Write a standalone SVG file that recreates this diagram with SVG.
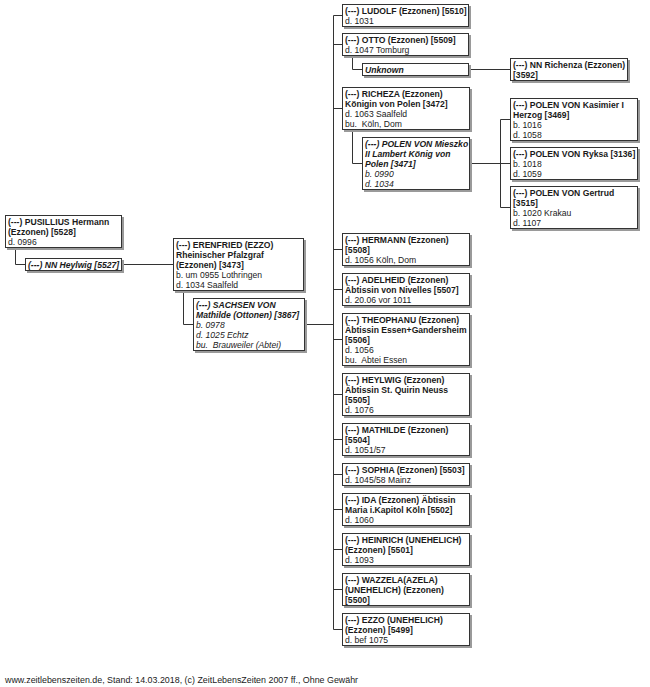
<svg xmlns="http://www.w3.org/2000/svg" width="650" height="687" viewBox="0 0 650 687">
<style>
.bg{fill:#fff}
.sh{fill:#9a9a9a}
.bx{fill:#fff;stroke:#333;stroke-width:1}
text{font-family:"Liberation Sans",Arial,sans-serif;font-size:8.6px;fill:#1a1a1a}
.b{font-weight:bold}
.i{font-style:italic}
.bi{font-weight:bold;font-style:italic}
#footer{font-size:8.9px}
#connectors path{fill:none;stroke:#333;stroke-width:1}
</style>
<rect class="bg" x="0" y="0" width="650" height="687"/>
<g id="connectors">
<path d="M15.5,247 V264.5 H25"/>
<path d="M121,264.5 H173"/>
<path d="M183.5,290 V324.5 H193"/>
<path d="M304,324.5 H333.5"/>
<path d="M333.5,15.5 V629.5"/>
<path d="M333.5,15.5 H342 M333.5,44.5 H342 M333.5,108.5 H342 M333.5,249.5 H342 M333.5,289.5 H342 M333.5,339.5 H342 M333.5,394.5 H342 M333.5,439.5 H342 M333.5,474.5 H342 M333.5,509.5 H342 M333.5,549.5 H342 M333.5,589.5 H342 M333.5,629.5 H342"/>
<path d="M352.5,55 V69.5 H362"/>
<path d="M468,69.5 H510"/>
<path d="M352.5,129 V163.5 H362"/>
<path d="M469,163.5 H500.5"/>
<path d="M500.5,119.5 V207.5 M500.5,119.5 H510 M500.5,163.5 H510 M500.5,207.5 H510"/>
</g>

<g id="n5528">
<rect class="sh" x="7" y="217" width="117" height="33"/>
<rect class="bx" x="5.5" y="215.5" width="116" height="32"/>
<text x="8" y="225" class="b">(---) PUSILLIUS Hermann</text>
<text x="8" y="235" class="b">(Ezzonen) [5528]</text>
<text x="8" y="245">d. 0996</text>
</g>
<g id="n5527">
<rect class="sh" x="27" y="260" width="97" height="13"/>
<rect class="bx" x="25.5" y="258.5" width="96" height="12"/>
<text x="28" y="268" class="bi">(---) NN Heylwig [5527]</text>
</g>
<g id="n3473">
<rect class="sh" x="175" y="240" width="131" height="53"/>
<rect class="bx" x="173.5" y="238.5" width="130" height="52"/>
<text x="176" y="248" class="b">(---) ERENFRIED (EZZO)</text>
<text x="176" y="258" class="b">Rheinischer Pfalzgraf</text>
<text x="176" y="268" class="b">(Ezzonen) [3473]</text>
<text x="176" y="278">b. um 0955 Lothringen</text>
<text x="176" y="288">d. 1034 Saalfeld</text>
</g>
<g id="n3867">
<rect class="sh" x="195" y="300" width="112" height="53"/>
<rect class="bx" x="193.5" y="298.5" width="111" height="52"/>
<text x="196" y="308" class="bi">(---) SACHSEN VON</text>
<text x="196" y="318" class="bi">Mathilde (Ottonen) [3867]</text>
<text x="196" y="328" class="i">b. 0978</text>
<text x="196" y="338" class="i">d. 1025 Echtz</text>
<text x="196" y="348" class="i" xml:space="preserve">bu.  Brauweiler (Abtei)</text>
</g>

<g id="n5510">
<rect class="sh" x="344" y="6" width="127" height="23"/>
<rect class="bx" x="342.5" y="4.5" width="126" height="22"/>
<text x="345" y="14" class="b">(---) LUDOLF (Ezzonen) [5510]</text>
<text x="345" y="24">d. 1031</text>
</g>
<g id="n5509">
<rect class="sh" x="344" y="35" width="127" height="23"/>
<rect class="bx" x="342.5" y="33.5" width="126" height="22"/>
<text x="345" y="43" class="b">(---) OTTO (Ezzonen) [5509]</text>
<text x="345" y="53">d. 1047 Tomburg</text>
</g>
<g id="unknown">
<rect class="sh" x="364" y="65" width="107" height="13"/>
<rect class="bx" x="362.5" y="63.5" width="106" height="12"/>
<text x="365" y="73" class="bi">Unknown</text>
</g>
<g id="n3592">
<rect class="sh" x="512" y="60" width="118" height="23"/>
<rect class="bx" x="510.5" y="58.5" width="117" height="22"/>
<text x="513" y="68" class="b">(---) NN Richenza (Ezzonen)</text>
<text x="513" y="78" class="b">[3592]</text>
</g>
<g id="n3472">
<rect class="sh" x="344" y="89" width="128" height="43"/>
<rect class="bx" x="342.5" y="87.5" width="127" height="42"/>
<text x="345" y="97" class="b">(---) RICHEZA (Ezzonen)</text>
<text x="345" y="107" class="b">Königin von Polen [3472]</text>
<text x="345" y="117">d. 1063 Saalfeld</text>
<text x="345" y="127" xml:space="preserve">bu.  Köln, Dom</text>
</g>
<g id="n3471">
<rect class="sh" x="364" y="139" width="108" height="53"/>
<rect class="bx" x="362.5" y="137.5" width="107" height="52"/>
<text x="365" y="147" class="bi">(---) POLEN VON Mieszko</text>
<text x="365" y="157" class="bi">II Lambert König von</text>
<text x="365" y="167" class="bi">Polen [3471]</text>
<text x="365" y="177" class="i">b. 0990</text>
<text x="365" y="187" class="i">d. 1034</text>
</g>
<g id="n3469">
<rect class="sh" x="512" y="100" width="128" height="43"/>
<rect class="bx" x="510.5" y="98.5" width="127" height="42"/>
<text x="513" y="108" class="b">(---) POLEN VON Kasimier I</text>
<text x="513" y="118" class="b">Herzog [3469]</text>
<text x="513" y="128">b. 1016</text>
<text x="513" y="138">d. 1058</text>
</g>
<g id="n3136">
<rect class="sh" x="512" y="149" width="128" height="33"/>
<rect class="bx" x="510.5" y="147.5" width="127" height="32"/>
<text x="513" y="157" class="b">(---) POLEN VON Ryksa [3136]</text>
<text x="513" y="167">b. 1018</text>
<text x="513" y="177">d. 1059</text>
</g>
<g id="n3515">
<rect class="sh" x="512" y="188" width="128" height="43"/>
<rect class="bx" x="510.5" y="186.5" width="127" height="42"/>
<text x="513" y="196" class="b">(---) POLEN VON Gertrud</text>
<text x="513" y="206" class="b">[3515]</text>
<text x="513" y="216">b. 1020 Krakau</text>
<text x="513" y="226">d. 1107</text>
</g>

<g id="n5508">
<rect class="sh" x="344" y="235" width="128" height="33"/>
<rect class="bx" x="342.5" y="233.5" width="127" height="32"/>
<text x="345" y="243" class="b">(---) HERMANN (Ezzonen)</text>
<text x="345" y="253" class="b">[5508]</text>
<text x="345" y="263">d. 1056 Köln, Dom</text>
</g>
<g id="n5507">
<rect class="sh" x="344" y="275" width="128" height="33"/>
<rect class="bx" x="342.5" y="273.5" width="127" height="32"/>
<text x="345" y="283" class="b">(---) ADELHEID (Ezzonen)</text>
<text x="345" y="293" class="b">Äbtissin von Nivelles [5507]</text>
<text x="345" y="303">d. 20.06 vor 1011</text>
</g>
<g id="n5506">
<rect class="sh" x="344" y="315" width="128" height="53"/>
<rect class="bx" x="342.5" y="313.5" width="127" height="52"/>
<text x="345" y="323" class="b">(---) THEOPHANU (Ezzonen)</text>
<text x="345" y="333" class="b">Äbtissin Essen+Gandersheim</text>
<text x="345" y="343" class="b">[5506]</text>
<text x="345" y="353">d. 1056</text>
<text x="345" y="363" xml:space="preserve">bu.  Abtei Essen</text>
</g>
<g id="n5505">
<rect class="sh" x="344" y="375" width="128" height="43"/>
<rect class="bx" x="342.5" y="373.5" width="127" height="42"/>
<text x="345" y="383" class="b">(---) HEYLWIG (Ezzonen)</text>
<text x="345" y="393" class="b">Äbtissin St. Quirin Neuss</text>
<text x="345" y="403" class="b">[5505]</text>
<text x="345" y="413">d. 1076</text>
</g>
<g id="n5504">
<rect class="sh" x="344" y="425" width="128" height="33"/>
<rect class="bx" x="342.5" y="423.5" width="127" height="32"/>
<text x="345" y="433" class="b">(---) MATHILDE (Ezzonen)</text>
<text x="345" y="443" class="b">[5504]</text>
<text x="345" y="453">d. 1051/57</text>
</g>
<g id="n5503">
<rect class="sh" x="344" y="465" width="128" height="23"/>
<rect class="bx" x="342.5" y="463.5" width="127" height="22"/>
<text x="345" y="473" class="b">(---) SOPHIA (Ezzonen) [5503]</text>
<text x="345" y="483">d. 1045/58 Mainz</text>
</g>
<g id="n5502">
<rect class="sh" x="344" y="495" width="128" height="33"/>
<rect class="bx" x="342.5" y="493.5" width="127" height="32"/>
<text x="345" y="503" class="b">(---) IDA (Ezzonen) Äbtissin</text>
<text x="345" y="513" class="b">Maria i.Kapitol Köln [5502]</text>
<text x="345" y="523">d. 1060</text>
</g>
<g id="n5501">
<rect class="sh" x="344" y="535" width="128" height="33"/>
<rect class="bx" x="342.5" y="533.5" width="127" height="32"/>
<text x="345" y="543" class="b">(---) HEINRICH (UNEHELICH)</text>
<text x="345" y="553" class="b">(Ezzonen) [5501]</text>
<text x="345" y="563">d. 1093</text>
</g>
<g id="n5500">
<rect class="sh" x="344" y="575" width="128" height="33"/>
<rect class="bx" x="342.5" y="573.5" width="127" height="32"/>
<text x="345" y="583" class="b">(---) WAZZELA(AZELA)</text>
<text x="345" y="593" class="b">(UNEHELICH) (Ezzonen)</text>
<text x="345" y="603" class="b">[5500]</text>
</g>
<g id="n5499">
<rect class="sh" x="344" y="615" width="128" height="33"/>
<rect class="bx" x="342.5" y="613.5" width="127" height="32"/>
<text x="345" y="623" class="b">(---) EZZO (UNEHELICH)</text>
<text x="345" y="633" class="b">(Ezzonen) [5499]</text>
<text x="345" y="643">d. bef 1075</text>
</g>

<text id="footer" x="5" y="683">www.zeitlebenszeiten.de, Stand: 14.03.2018, (c) ZeitLebensZeiten 2007 ff., Ohne Gewähr</text>
</svg>
